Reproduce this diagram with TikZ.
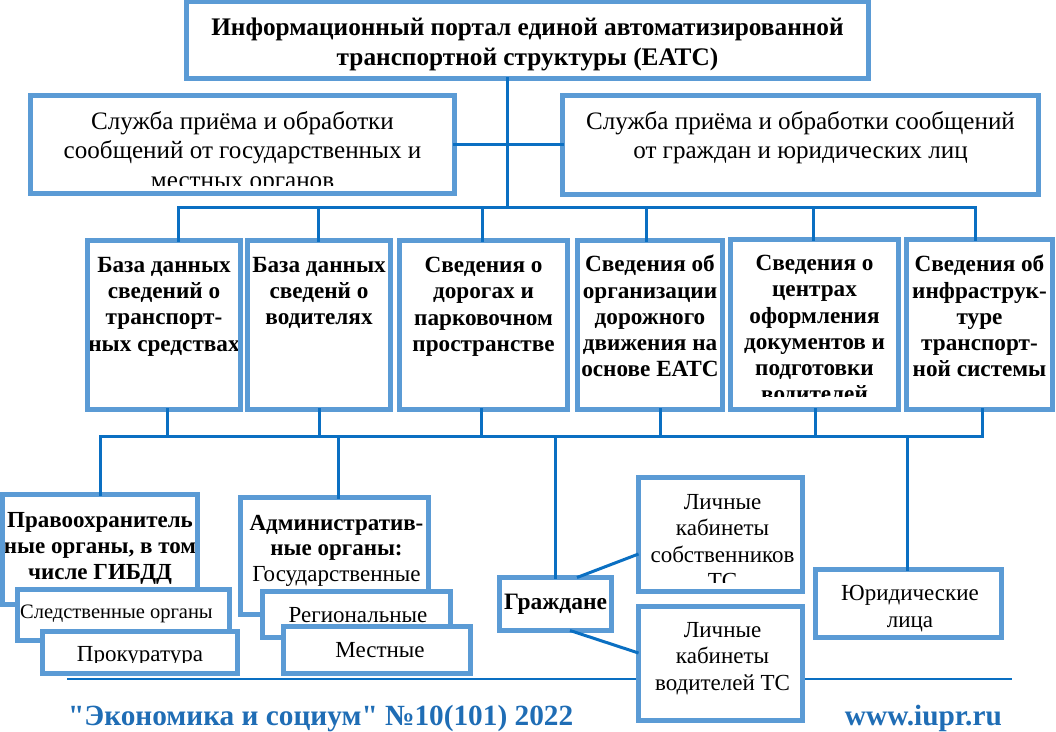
\documentclass[tikz,border=0pt]{standalone}
\usepackage{fontspec}
\setmainfont{Liberation Serif}
\newfontfamily\plainserif{Liberation Serif}
\definecolor{boxblue}{HTML}{5B9BD5}
\definecolor{lineblue}{HTML}{0A6FC2}
\definecolor{footblue}{HTML}{1F6DB5}
\tikzset{
  fr/.style n args={4}{rectangle, draw=boxblue, line width=5pt, fill=white,
    inner sep=0pt, outer sep=0pt, minimum width={#3-#1-5}, minimum height={#4-#2-5}},
  rim/.style={draw=boxblue, line width=5pt},
  conn/.style={draw=lineblue, line width=3pt, line cap=rect},
  ttl/.style={font=\fontsize{25.3}{30}\selectfont\bfseries},
  svc/.style={font=\fontsize{25.1}{29.5}\selectfont},
  rowf/.style={font=\fontsize{23.2}{26.3}\selectfont\bfseries},
  bb/.style={font=\fontsize{23}{26}\selectfont\bfseries},
  bn/.style={font=\fontsize{23}{26.5}\selectfont},
  foot/.style={font=\plainserif\fontsize{29.3}{32}\selectfont\bfseries, text=footblue, inner sep=0pt},
}
% name, x1, y1, x2, y2, text style, yshift, text, bottom clip inset
\newcommand\bbox[9]{%
  \node[fr={#2}{#3}{#4}{#5}] (#1) at ({(#2+#4)/2},{(#3+#5)/2}) {};
  \begin{scope}
    \clip (#1.north west) rectangle ([yshift=#9]#1.south east);
    \node[anchor=north, align=center, inner sep=0pt, #6] (#1-t)
      at ([yshift=#7]#1.north) {#8};
  \end{scope}
  \path[rim] (#1.north west) rectangle (#1.south east);}
\begin{document}
\begin{tikzpicture}[x=1pt, y=-1pt]
\useasboundingbox (0,0) rectangle (1056,731);
% bus coordinates
\coordinate (t0) at (507,207);
\coordinate (d1) at (178,207);
\coordinate (d2) at (318,207);
\coordinate (d3) at (482,207);
\coordinate (d4) at (646,207);
\coordinate (d5) at (813,207);
\coordinate (d6) at (975,207);
\coordinate (u1) at (167,436);
\coordinate (u2) at (319,436);
\coordinate (u3) at (481,436);
\coordinate (u4) at (660,436);
\coordinate (u5) at (815,436);
\coordinate (u6) at (982,436);
\coordinate (e1) at (100,436);
\coordinate (e2) at (338,436);
\coordinate (e3) at (555,436);
\coordinate (e4) at (907,436);
\coordinate (fl) at (67,679);
\coordinate (fr) at (1012,679);

\path[draw=lineblue, line width=2.5pt] (fl) -- (fr);

\bbox{top}{184}{-1}{871}{81}{ttl}{-16.6pt}{Информационный портал единой автоматизированной\\транспортной структуры (ЕАТС)}{0pt}
\bbox{sl}{28}{93}{457}{196}{svc}{-15.7pt}{Служба приёма и обработки\\сообщений от государственных и\\местных органов}{8.5pt}
\bbox{sr}{560}{93}{1041}{197}{svc}{-15.7pt}{Служба приёма и обработки сообщений\\от граждан и юридических лиц}{0pt}
\bbox{r1}{85}{238}{243}{412}{rowf}{-16.4pt}{База данных\\сведений о\\транспорт-\\ных средствах}{0pt}
\bbox{r2}{245}{238}{393}{412}{rowf}{-16.4pt}{База данных\\сведенй о\\водителях}{0pt}
\bbox{r3}{397}{238}{570}{412}{rowf}{-16.4pt}{Сведения о\\дорогах и\\парковочном\\пространстве}{0pt}
\bbox{r4}{575}{238}{725}{412}{rowf}{-14.4pt}{Сведения об\\организации\\дорожного\\движения на\\основе ЕАТС}{0pt}
\bbox{r5}{728}{237}{901}{412}{rowf}{-15.4pt}{Сведения о\\центрах\\оформления\\документов и\\подготовки\\водителей}{13.5pt}
\bbox{r6}{904}{237}{1055}{412}{rowf}{-15.4pt}{Сведения об\\инфраструк-\\туре\\транспорт-\\ной системы}{0pt}

% connectors
\draw[conn] (top.south -| t0) -- (t0);
\draw[conn] (sl.east) -- (sl.east -| sr.west);
\draw[conn] (d1) -- (d6);
\foreach \d/\r in {d1/r1, d2/r2, d3/r3, d4/r4, d5/r5, d6/r6}
  \draw[conn] (\d) -- (\d |- \r.north);
\draw[conn] (e1) -- (u6);
\foreach \u/\r in {u1/r1, u2/r2, u3/r3, u4/r4, u5/r5, u6/r6}
  \draw[conn] (\u) -- (\u |- \r.south);

\bbox{pr}{0}{492}{200}{607}{bb}{-17.5pt}{Правоохранитель\\ные органы, в том\\числе ГИБДД}{0pt}
\bbox{adm}{238}{495}{431}{617}{font=\fontsize{23}{25.5}\selectfont, xshift=2pt}{-17.5pt}{\textbf{Административ-}\\\textbf{ные органы:}\\Государственные}{0pt}
\bbox{gr}{497}{575}{614}{633}{font=\fontsize{23.5}{26}\selectfont\bfseries}{-16.3pt}{Граждане}{0pt}
\bbox{yur}{813}{567}{1004}{640}{font=\fontsize{23}{27}\selectfont, xshift=1.5pt}{-15.5pt}{Юридические\\лица}{0pt}
\draw[conn] (e1) -- (e1 |- pr.north);
\draw[conn] (e2) -- (e2 |- adm.north);
\draw[conn] (e3) -- (e3 |- gr.north);
\draw[conn] (e4) -- (e4 |- yur.north);

\bbox{sled}{15}{587}{232}{643}{font=\fontsize{20.5}{24}\selectfont, xshift=-7pt}{-15.5pt}{Следственные органы}{0pt}
\bbox{prok}{40}{629}{240}{676}{bn}{-14.5pt}{Прокуратура}{11.5pt}
\bbox{reg}{260}{589}{453}{640}{bn, xshift=1.5pt}{-15.5pt}{Региональные}{0pt}
\bbox{mest}{281}{624}{473}{676}{bn, xshift=3pt}{-15.5pt}{Местные}{0pt}
\bbox{lk1}{636}{475}{805}{594}{bn, xshift=2pt}{-16.5pt}{Личные\\кабинеты\\собственников\\ТС}{9.5pt}
\bbox{lk2}{636}{604}{805}{723}{bn, xshift=2pt}{-15.5pt}{Личные\\кабинеты\\водителей ТС}{0pt}
\draw[conn, line cap=butt] ([xshift=21.5pt]gr.north) -- ([yshift=-19.5pt]lk1.west);
\draw[conn, line cap=butt] ([xshift=14.5pt]gr.south) -- ([yshift=10.5pt]lk2.west);

\node[foot, anchor=base west] (f1) at (68,725) {"Экономика и социум" №10(101) 2022};
\node[foot, anchor=base east] (f2) at (1002,725) {www.iupr.ru};
\end{tikzpicture}
\end{document}
